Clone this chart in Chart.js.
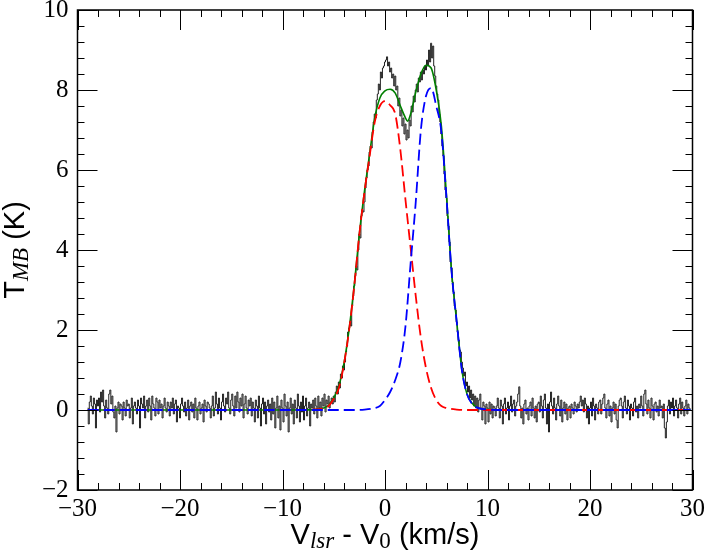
<!DOCTYPE html>
<html lang="en">
<head>
<meta charset="UTF-8">
<title>T_MB spectrum with two-component fit</title>
<script src="https://cdn.jsdelivr.net/npm/chart.js"></script>
<style>
  body { margin: 0; background: #fff; }
  .wrap { width: 709px; height: 550px; position: relative; }
</style>
</head>
<body>
<div class="wrap"><canvas id="spec"></canvas></div>
<script>
// observed spectrum, one value per 0.1 km/s channel starting at -29.0
const specStart = -29.0;
const specStep = 0.1;
const specT = [
  0.05, -0.35, 0.2, 0.35, 0.1, -0.1, 0.3, 0.15, -0.45, 0.25,   0.1, 0.3, -0.05, 0.45, 0.2, 0.5, 0.1, -0.2, 0.25, 0.05,
  -0.1, 0.4, 0.5, 0.15, 0.35, -0.05, -0.2, 0.1, -0.55, 0.05,   0.2, -0.1, 0.15, 0.1, -0.25, 0.2, 0.05, -0.15, 0.25, 0.1,
  0.15, -0.2, 0.05, 0.3, -0.35, 0.1, 0.2, 0.05, -0.1, 0.25,    0.1, -0.45, 0.3, 0.15, 0.05, 0.35, -0.2, 0.1, 0.25, -0.05,
  0.3, 0.1, -0.25, 0.35, 0.15, 0.05, -0.15, 0.3, 0.2, -0.1,    0.25, 0.05, 0.15, -0.2, 0.1, 0.3, 0.05, -0.05, 0.2, 0.1,
  -0.15, 0.2, 0.05, 0.3, -0.1, 0.15, 0.25, -0.3, 0.1, 0.05,    -0.2, 0.15, 0.3, 0.1, -0.05, 0.2, -0.15, 0.05, 0.25, -0.25,
  0.1, 0.2, -0.05, 0.15, -0.2, 0.3, 0.05, -0.25, 0.1, 0.2,     -0.1, 0.05, 0.15, -0.3, 0.25, 0.1, -0.05, 0.2, 0.15, 0.05,
  -0.2, 0.1, 0.35, -0.15, 0.05, 0.45, 0.15, -0.1, 0.3, 0.05,   -0.25, 0.2, 0.4, 0.1, -0.05, 0.3, 0.15, 0.45, 0.05, -0.1,
  0.25, 0.4, 0.1, -0.15, 0.35, 0.05, 0.45, 0.2, -0.05, 0.3,    0.1, 0.4, -0.2, 0.15, 0.35, 0.05, -0.1, 0.25, 0.1, 0.3,
  -0.15, 0.2, 0.05, -0.3, 0.25, 0.1, -0.2, 0.35, 0.05, -0.4,   0.15, 0.3, -0.1, 0.2, -0.35, 0.1, 0.25, -0.05, 0.15, -0.25,
  0.3, -0.1, 0.2, -0.45, 0.05, 0.35, -0.2, 0.1, -0.5, 0.25,    0.05, -0.3, 0.4, 0.1, -0.15, 0.2, -0.55, 0.05, 0.3, -0.1,
  0.15, -0.35, 0.25, 0.05, -0.2, 0.4, 0.1, -0.3, 0.2, -0.05,   0.35, -0.25, 0.1, 0.3, -0.15, 0.05, 0.2, -0.4, 0.15, 0.05,
  0.25, -0.1, 0.3, 0.1, -0.2, 0.35, 0.05, 0.2, -0.15, 0.3,     0.1, 0.4, -0.05, 0.25, 0.15, 0.35, 0.05, 0.2, 0.3, 0.15,
  0.35, 0.2, 0.45, 0.6, 0.4, 0.7, 0.55, 0.9, 0.8, 1.1,         1.0, 1.2, 1.45, 1.6, 1.95, 2.05, 2.2, 2.1, 2.6, 2.85,
  3.1, 3.35, 3.6, 3.5, 4.0, 4.4, 4.3, 4.85, 5.0, 4.95,         5.2, 5.55, 5.8, 6.0, 6.1, 6.45, 6.6, 6.55, 6.95, 7.2,
  7.4, 7.3, 7.75, 7.9, 8.15, 8.0, 8.45, 8.3, 8.55, 8.6,        8.7, 8.75, 8.83, 8.6, 8.7, 8.45, 8.55, 8.3, 8.4, 8.1,
  8.35, 8.0, 8.1, 7.6, 7.8, 7.35, 7.5, 7.1, 7.3, 6.9,          7.15, 6.75, 7.0, 6.8, 7.25, 7.1, 7.6, 7.45, 7.85, 7.7,
  8.0, 8.15, 7.95, 8.3, 8.2, 8.45, 8.25, 8.5, 8.4, 8.6,        8.5, 8.75, 8.6, 9.0, 8.7, 9.17, 8.8, 9.1, 8.6, 8.35,
  8.1, 7.9, 7.75, 7.4, 7.2, 6.9, 6.6, 6.35, 5.9, 5.5,          5.3, 4.85, 4.6, 4.2, 3.7, 3.55, 3.2, 2.95, 2.6, 2.5,
  2.2, 1.95, 1.75, 1.5, 1.45, 1.2, 1.05, 0.85, 0.95, 0.6,      0.7, 0.45, 0.6, 0.3, 0.5, 0.25, 0.4, 0.1, 0.35, 0.05,
  0.3, -0.05, 0.25, 0.4, 0.05, -0.25, 0.2, 0.1, -0.35, 0.15,   0.05, -0.3, 0.2, -0.1, 0.15, -0.2, 0.1, 0.05, -0.15, 0.1,
  0.3, 0.05, -0.2, 0.25, 0.1, -0.35, 0.15, 0.3, -0.1, 0.05,    0.2, -0.25, 0.1, 0.35, -0.05, 0.15, 0.25, -0.15, 0.1, 0.2,
  0.4, 0.58, 0.1, -0.2, 0.05, -0.35, 0.15, 0.25, -0.1, 0.05,   -0.25, 0.1, 0.2, -0.15, 0.3, 0.05, -0.2, 0.1, -0.3, 0.15,
  0.2, -0.05, 0.35, 0.1, -0.2, 0.25, 0.4, 0.05, -0.35, 0.15,   -0.55, 0.2, 0.45, 0.1, -0.1, 0.3, 0.05, -0.25, 0.15, 0.35,
  0.1, -0.15, 0.25, -0.3, 0.05, 0.2, -0.1, 0.15, -0.25, 0.05,  0.1, -0.2, 0.15, 0.05, -0.1, 0.2, 0.1, -0.05, 0.15, 0.05,
  0.2, 0.35, 0.1, 0.25, -0.05, 0.3, 0.15, -0.2, 0.1, -0.35,    0.05, 0.2, -0.15, 0.3, 0.1, -0.25, 0.15, 0.05, -0.1, 0.2,
  0.25, -0.1, 0.15, 0.3, 0.4, 0.05, -0.2, 0.15, 0.25, -0.15,   0.1, -0.3, 0.05, 0.2, -0.1, 0.15, -0.25, -0.45, 0.1, 0.25,
  0.3, 0.1, -0.2, 0.2, 0.35, 0.05, -0.1, 0.25, 0.1, -0.25,     0.15, 0.05, -0.15, 0.2, 0.3, -0.05, 0.1, -0.2, 0.15, 0.05,
  0.35, 0.1, -0.15, 0.4, 0.5, 0.15, -0.1, 0.25, 0.05, -0.2,    0.3, 0.1, -0.25, 0.15, 0.2, -0.05, 0.1, -0.15, 0.25, 0.05,
  0.1, -0.2, 0.15, -0.45, -0.7, -0.3, 0.1, 0.25, -0.1, 0.2,    0.05, 0.3, -0.15, 0.1, 0.25, 0.05, -0.2, 0.15, 0.3, -0.1,
  0.2, 0.05, -0.15, 0.1, 0.25, -0.1, 0.15, 0.05, 0.0
];

// fit components
const redV = [-29, -8, -7, -6, -5.5, -5, -4.5, -4, -3.5, -3, -2.5, -2, -1.5, -1, -0.5, 0, 0.5, 1, 1.5, 2, 2.5, 3, 3.5, 4, 4.5, 5, 5.5, 6, 7, 8, 29.8];
const redT = [0, 0, 0.01, 0.04, 0.1, 0.28, 0.55, 1.15, 2.0, 3.1, 4.4, 5.45, 6.35, 7.2, 7.6, 7.72, 7.62, 7.4, 6.5, 5.25, 4.05, 2.85, 1.8, 1.05, 0.55, 0.25, 0.1, 0.05, 0.01, 0, 0];

const blueV = [-29, -3, -2, -1, -0.5, 0, 0.5, 1, 1.5, 2, 2.5, 3, 3.5, 4, 4.5, 5, 5.5, 6, 6.5, 7, 7.5, 8, 8.5, 9, 10, 11, 29.8];
const blueT = [0, 0, 0.01, 0.05, 0.1, 0.25, 0.45, 0.75, 1.2, 2.1, 3.67, 5.2, 7.0, 7.85, 8.05, 7.6, 6.95, 5.3, 3.45, 2.2, 1.0, 0.4, 0.15, 0.06, 0.01, 0, 0];

const greenV = [-29, -8, -7, -6, -5.5, -5, -4.5, -4, -3.5, -3, -2.5, -2, -1.5, -1, -0.5, 0, 0.5, 1, 1.5, 2, 2.2, 2.5, 3, 3.5, 4, 4.5, 5, 5.5, 6, 6.5, 7, 7.5, 8, 8.5, 9, 10, 11, 29.8];
const greenT = [0, 0, 0.01, 0.05, 0.12, 0.3, 0.6, 1.17, 2.02, 3.12, 4.4, 5.47, 6.4, 7.3, 7.8, 7.98, 8.02, 7.92, 7.6, 7.3, 7.22, 7.4, 7.95, 8.4, 8.62, 8.55, 8.0, 7.1, 5.35, 3.45, 2.2, 1.0, 0.4, 0.17, 0.06, 0.01, 0, 0];

const xMinorStep = 2, xMajorStep = 10;
const yMinorStep = 0.4, yMajorStep = 2;

const pts = (xs, ys) => xs.map((v, i) => ({ x: v, y: ys[i] }));
const specPts = specT.map((t, i) => ({ x: +(specStart + i * specStep).toFixed(2), y: t }));

const tickFont = { family: '"Liberation Serif", serif', size: 25 };
const minus = v => String(v).replace('-', '\u2212');

// inward ticks on all four sides plus the frame
const frameTicks = {
  id: 'frameTicks',
  afterDraw(chart) {
    const { ctx, chartArea: a, scales: { x, y } } = chart;
    ctx.save();
    ctx.strokeStyle = '#000';
    ctx.lineWidth = 1;
    ctx.beginPath();
    const nx = Math.round((x.max - x.min) / xMinorStep);
    for (let i = 0; i <= nx; i++) {
      const v = x.min + i * xMinorStep;
      const px = Math.round(x.getPixelForValue(v)) + 0.5;
      const len = Math.abs(v % xMajorStep) < 1e-6 ? 20 : 7;
      ctx.moveTo(px, a.bottom); ctx.lineTo(px, a.bottom - len);
      ctx.moveTo(px, a.top); ctx.lineTo(px, a.top + len);
    }
    const ny = Math.round((y.max - y.min) / yMinorStep);
    for (let i = 0; i <= ny; i++) {
      const v = y.min + i * yMinorStep;
      const py = Math.round(y.getPixelForValue(v)) + 0.5;
      const r = (v - y.min) / yMajorStep;
      const len = Math.abs(r - Math.round(r)) < 1e-6 ? 20 : 7;
      ctx.moveTo(a.left, py); ctx.lineTo(a.left + len, py);
      ctx.moveTo(a.right, py); ctx.lineTo(a.right - len, py);
    }
    ctx.stroke();
    ctx.lineWidth = 1.5;
    ctx.strokeRect(a.left, a.top, a.right - a.left, a.bottom - a.top);
    ctx.restore();
  }
};

// axis titles with subscripts
function drawParts(ctx, parts, x0, y0) {
  let w = 0;
  parts.forEach(p => { ctx.font = p.f; w += ctx.measureText(p.t).width; });
  let cx = x0 - w / 2;
  parts.forEach(p => {
    ctx.font = p.f;
    ctx.fillText(p.t, cx, y0 + (p.dy || 0));
    cx += ctx.measureText(p.t).width;
  });
}

const mainFont = '29px "Liberation Sans", Arial, sans-serif';
const subItalic = 'italic 23px "Liberation Serif", serif';
const subUpright = '23px "Liberation Serif", serif';

const axisTitles = {
  id: 'axisTitles',
  afterDraw(chart) {
    const { ctx, chartArea: a } = chart;
    ctx.save();
    ctx.fillStyle = '#000';
    ctx.textBaseline = 'alphabetic';
    ctx.textAlign = 'left';
    drawParts(ctx, [
      { t: 'V', f: mainFont },
      { t: 'lsr', f: subItalic, dy: 4 },
      { t: ' - V', f: mainFont },
      { t: '0', f: subUpright, dy: 4 },
      { t: ' (km/s)', f: mainFont }
    ], (a.left + a.right) / 2, 544);
    ctx.translate(24, (a.top + a.bottom) / 2);
    ctx.rotate(-Math.PI / 2);
    drawParts(ctx, [
      { t: 'T', f: mainFont },
      { t: 'MB', f: subItalic, dy: 4 },
      { t: ' (K)', f: mainFont }
    ], 0, 0);
    ctx.restore();
  }
};

new Chart(document.getElementById('spec'), {
  type: 'line',
  data: {
    datasets: [
      { label: 'comp 2', data: pts(blueV, blueT), borderColor: '#0000ff', borderWidth: 1.8, borderDash: [11, 5], cubicInterpolationMode: 'monotone', order: 0 },
      { label: 'comp 1', data: pts(redV, redT), borderColor: '#ff0000', borderWidth: 1.8, borderDash: [11, 5], cubicInterpolationMode: 'monotone', order: 1 },
      { label: 'fit', data: pts(greenV, greenT), borderColor: '#007f00', borderWidth: 1.6, cubicInterpolationMode: 'monotone', order: 2 },
      { label: 'spectrum', data: specPts, borderColor: '#222', borderWidth: 1, stepped: 'middle', order: 3 }
    ]
  },
  options: {
    responsive: true,
    maintainAspectRatio: false,
    animation: false,
    events: [],
    elements: { point: { radius: 0 } },
    layout: { padding: { top: 10, right: 12, left: 0, bottom: 0 } },
    plugins: { legend: { display: false }, tooltip: { enabled: false } },
    scales: {
      x: {
        type: 'linear', min: -30, max: 30,
        grid: { display: false, drawTicks: false },
        border: { display: false },
        ticks: { stepSize: xMajorStep, color: '#000', font: tickFont, padding: 4, maxRotation: 0, callback: minus },
        afterFit: s => { s.height = 60; }
      },
      y: {
        min: -2, max: 10,
        grid: { display: false, drawTicks: false },
        border: { display: false },
        ticks: { stepSize: yMajorStep, color: '#000', font: tickFont, padding: 9, callback: minus },
        afterFit: s => { s.width = 77.5; s.paddingTop = 0; s.paddingBottom = 0; }
      }
    }
  },
  plugins: [frameTicks, axisTitles]
});
</script>
</body>
</html>
